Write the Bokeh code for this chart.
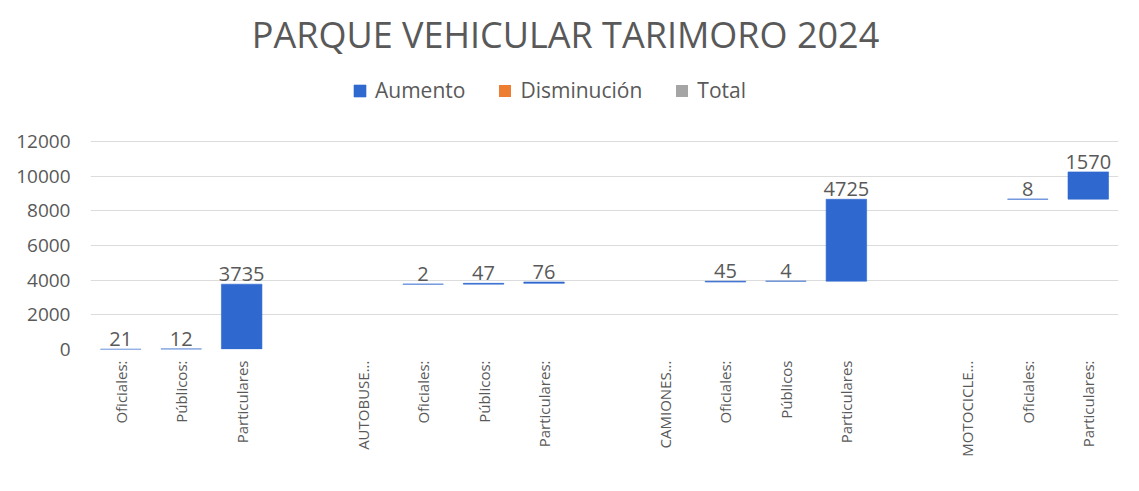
from bokeh.plotting import figure
from bokeh.models import (ColumnDataSource, Range1d, FixedTicker, Legend, LegendItem, Label)
from bokeh.embed import file_html
from bokeh.resources import INLINE
from bokeh.core.properties import value

# ---- data ----
categories = ["Oficiales:", "Públicos:", "Particulares", "",
              "AUTOBUSE...", "Oficiales:", "Públicos:", "Particulares:", "",
              "CAMIONES...", "Oficiales:", "Públicos", "Particulares", "",
              "MOTOCICLE...", "Oficiales:", "Particulares:"]
values = [21, 12, 3735, None,
          None, 2, 47, 76, None,
          None, 45, 4, 4725, None,
          None, 8, 1570]
y_ticks = [0, 2000, 4000, 6000, 8000, 10000, 12000]
title_text = "PARQUE VEHICULAR TARIMORO 2024"

BLUE = "#2F68CF"
ORANGE = "#ED7D31"
GRAY = "#A5A5A5"
TXT = "#595959"
FONT = "Open Sans"

xs, bottoms, tops, labels = [], [], [], []
running = 0
for i, v in enumerate(values):
    if v is None:
        continue
    xs.append(i)
    bottoms.append(running)
    running += v
    tops.append(running)
    labels.append(str(v))

src = ColumnDataSource(dict(x=xs, bottom=bottoms, top=tops, label=labels))

# layout: frame spans canvas top (0) to y=349; 12000 sits at y=141
W, H = 1139, 491
frame_bottom_px, top_tick_px = 349, 141
y_max = y_ticks[-1]
y_end = y_max + top_tick_px * y_max / (frame_bottom_px - top_tick_px)

p = figure(width=W, height=H, output_backend="svg", toolbar_location=None,
           x_range=Range1d(-0.5, len(categories) - 0.5), y_range=Range1d(0, y_end),
           min_border_left=90, min_border_right=21, min_border_top=0,
           min_border_bottom=H - frame_bottom_px)
p.outline_line_color = None
p.background_fill_color = "white"

inc = p.vbar(x="x", bottom="bottom", top="top", width=0.67, source=src,
             fill_color=BLUE, line_color=BLUE, line_alpha=0.6, line_width=1)
nan = float("nan")
dec = p.vbar(x=[nan], bottom=[nan], top=[nan], width=0.67, fill_color=ORANGE, line_color=None)
tot = p.vbar(x=[nan], bottom=[nan], top=[nan], width=0.67, fill_color=GRAY, line_color=None)

p.text(x="x", y="top", text="label", source=src, text_align="center",
       text_baseline="bottom", y_offset=-3, text_font=value(FONT),
       text_font_size="20px", text_color=TXT)

# axes
p.xaxis.ticker = FixedTicker(ticks=[i for i, c in enumerate(categories) if c])
p.xaxis.major_label_overrides = {i: c for i, c in enumerate(categories) if c}
p.xaxis.major_label_orientation = 3.14159265 / 2
p.xaxis.axis_line_color = None
p.xaxis.major_tick_line_color = None
p.xaxis.minor_tick_line_color = None
p.xaxis.major_label_text_font = FONT
p.xaxis.major_label_text_font_size = "15px"
p.xaxis.major_label_text_color = TXT
p.xaxis.major_label_standoff = 5

p.yaxis.ticker = FixedTicker(ticks=y_ticks)
p.yaxis.axis_line_color = None
p.yaxis.major_tick_line_color = None
p.yaxis.minor_tick_line_color = None
p.yaxis.major_label_text_font = FONT
p.yaxis.major_label_text_font_size = "19px"
p.yaxis.major_label_text_color = TXT
p.yaxis.major_label_standoff = 14

p.xgrid.grid_line_color = None
p.ygrid.grid_line_color = "#DCDCDC"
p.ygrid.grid_line_width = 1

legend = Legend(items=[LegendItem(label="Aumento", renderers=[inc]),
                       LegendItem(label="Disminución", renderers=[dec]),
                       LegendItem(label="Total", renderers=[tot])],
                orientation="horizontal", location=(262, 245),
                label_text_font=FONT, label_text_font_size="21px",
                label_text_color=TXT, glyph_width=15, glyph_height=15,
                label_standoff=8, spacing=32, border_line_color=None,
                background_fill_alpha=0, padding=3, margin=0)
p.add_layout(legend, "center")

p.add_layout(Label(x=475, y=frame_bottom_px - 34, x_units="screen", y_units="screen",
                   text=title_text, text_align="center", text_baseline="middle",
                   text_font=FONT, text_font_size="36px", text_color=TXT))

open("out.html", "w").write(file_html(p, INLINE))
